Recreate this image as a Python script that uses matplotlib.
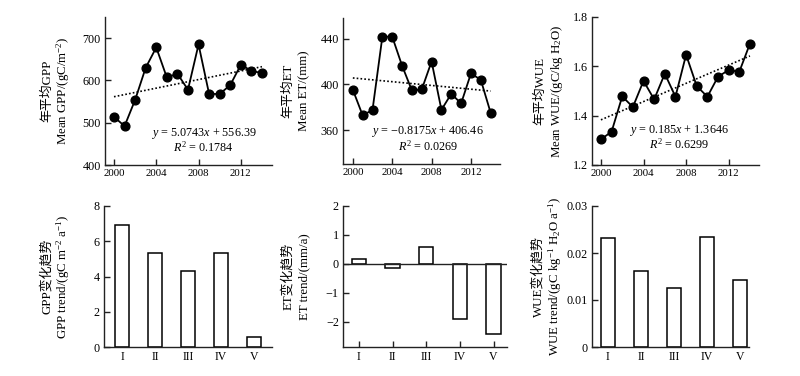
import matplotlib
matplotlib.use("Agg")
import matplotlib.pyplot as plt
import numpy as np

plt.rcParams['font.family'] = ['Liberation Serif', 'Noto Sans CJK SC']
plt.rcParams['mathtext.fontset'] = 'custom'
plt.rcParams['mathtext.rm'] = 'Liberation Serif'
plt.rcParams['mathtext.it'] = 'Liberation Serif:italic'
plt.rcParams['axes.unicode_minus'] = True

# ---------------- data ----------------
years = [2000, 2001, 2002, 2003, 2004, 2005, 2006, 2007, 2008, 2009, 2010, 2011, 2012, 2013, 2014]
gpp_mean = [514, 492, 554, 630, 678, 607, 616, 578, 685, 568, 568, 589, 637, 623, 617]
et_mean = [395.3, 372.9, 377.8, 441.7, 441.7, 416.4, 394.7, 395.6, 420.0, 377.8, 391.8, 383.4, 409.6, 404.0, 375.2]
wue_mean = [1.304, 1.335, 1.478, 1.435, 1.541, 1.466, 1.570, 1.477, 1.647, 1.520, 1.477, 1.558, 1.585, 1.578, 1.692]

# regression coefficients (slope, intercept), x = year index starting at 1
gpp_fit = (5.0743, 556.39)
et_fit = (-0.8175, 406.46)
wue_fit = (0.0185, 1.3646)
gpp_eq = [r"$y$ = 5.0743$x$ + 556.39", r"$R^2$ = 0.1784"]
et_eq = [r"$y$ = −0.8175$x$ + 406.46", r"$R^2$ = 0.0269"]
wue_eq = [r"$y$ = 0.185$x$ + 1.3646", r"$R^2$ = 0.6299"]

regions = ["I", "II", "III", "IV", "V"]
gpp_trend = [6.92, 5.34, 4.32, 5.32, 0.55]
et_trend = [0.16, -0.14, 0.59, -1.89, -2.43]
wue_trend = [0.0232, 0.0161, 0.01252, 0.0233, 0.01415]

# ---------------- figure ----------------
W, H = 800, 376
fig = plt.figure(figsize=(8, 3.76), dpi=100)

def axes_px(x0, x1, ytop, ybot):
    return fig.add_axes([x0 / W, 1 - ybot / H, (x1 - x0) / W, (ybot - ytop) / H])

FS_Y = 8.7
FS_X = 7.8
FS_LAB = 9.3
FS_EQ = 8.7
LW_SP = 1.0

def style(ax, xfs=FS_X):
    for s in ['top', 'right']:
        ax.spines[s].set_visible(False)
    for s in ['left', 'bottom']:
        ax.spines[s].set_linewidth(LW_SP)
        ax.spines[s].set_color('#222222')
    ax.tick_params(direction='in', length=4, width=LW_SP, colors='#222222',
                   labelcolor='black', pad=3)
    ax.tick_params(axis='y', labelsize=FS_Y)
    ax.tick_params(axis='x', labelsize=xfs)

def ylab(ax, lines, offs, axw):
    for t, o in zip(lines, offs):
        ax.text(o / axw, 0.5, t, transform=ax.transAxes, rotation=90,
                ha='center', va='center', fontsize=FS_LAB)

def line_panel(ax, vals, fit, eq, ylim, yticks, yfmt, eqpos):
    style(ax)
    ax.plot(years, vals, color='black', lw=1.3, marker='o', ms=6.3, mfc='black', mec='black', zorder=3)
    xi = np.arange(1, len(years) + 1)
    ax.plot(years, fit[0] * xi + fit[1], color='black', lw=1.2, ls=(0, (1, 1.3)), zorder=2)
    ax.set_ylim(*ylim)
    ax.set_yticks(yticks)
    ax.set_yticklabels([yfmt(v) for v in yticks])
    ax.set_xticks([2000, 2004, 2008, 2012])
    ax.text(eqpos[0], eqpos[1], eq[0], transform=ax.transAxes, ha='center', va='center', fontsize=FS_EQ)
    ax.text(eqpos[0], eqpos[2], eq[1], transform=ax.transAxes, ha='center', va='center', fontsize=FS_EQ)

def bar_panel(ax, vals, ylim, yticks, ylabels, xlim):
    style(ax, xfs=8.5)
    xs = np.arange(len(regions))
    ax.bar(xs, vals, width=0.42, color='white', edgecolor='black', linewidth=1.1, zorder=2)
    ax.set_xticks(xs)
    ax.set_xticklabels(regions)
    ax.set_ylim(*ylim)
    ax.set_xlim(*xlim)
    ax.set_yticks(yticks)
    ax.set_yticklabels(ylabels)

# top row
a1 = axes_px(105, 272, 17, 165)
line_panel(a1, gpp_mean, gpp_fit, gpp_eq, (400, 750), [400, 500, 600, 700], lambda v: f"{v:d}",
           (0.59, 0.216, 0.12))
a1.set_xlim(1999.15, 2014.95)
ylab(a1, ["年平均GPP", r"Mean GPP/(gC/m$^{-2}$)"], [-58, -42], 167)

a2 = axes_px(343, 500, 18, 164)
line_panel(a2, et_mean, et_fit, et_eq, (330.5, 458), [360, 400, 440], lambda v: f"{v:d}",
           (0.54, 0.22, 0.12))
a2.set_xlim(1999.0, 2014.95)
ylab(a2, ["年平均ET", "Mean ET/(mm)"], [-55, -39], 157)

a3 = axes_px(592, 759, 17, 165)
line_panel(a3, wue_mean, wue_fit, wue_eq, (1.2, 1.8), [1.2, 1.4, 1.6, 1.8], lambda v: f"{v:.1f}",
           (0.52, 0.236, 0.142))
a3.set_xlim(1999.16, 2014.85)
ylab(a3, ["年平均WUE", r"Mean WUE/(gC/kg H$_2$O)"], [-52, -35], 167)

# bottom row
b1 = axes_px(104, 272, 206, 347)
bar_panel(b1, gpp_trend, (0, 8), [0, 2, 4, 6, 8], ["0", "2", "4", "6", "8"], (-0.55, 4.55))
ylab(b1, ["GPP变化趋势", r"GPP trend/(gC m$^{-2}$ a$^{-1}$)"], [-57, -41], 168)

b2 = axes_px(343, 507, 206, 347)
b2.axhline(0, color='#222222', lw=LW_SP, zorder=3)
bar_panel(b2, et_trend, (-2.87, 2), [-2, -1, 0, 1, 2], ["−2", "−1", "0", "1", "2"], (-0.47, 4.4))
ylab(b2, ["ET变化趋势", "ET trend/(mm/a)"], [-55, -39], 164)

b3 = axes_px(592, 749, 206, 347)
bar_panel(b3, wue_trend, (0, 0.03), [0, 0.01, 0.02, 0.03], ["0", "0.01", "0.02", "0.03"], (-0.48, 4.27))
ylab(b3, ["WUE变化趋势", r"WUE trend/(gC kg$^{-1}$ H$_2$O a$^{-1}$)"], [-54, -37], 157)

fig.savefig("out.png", dpi=100)
